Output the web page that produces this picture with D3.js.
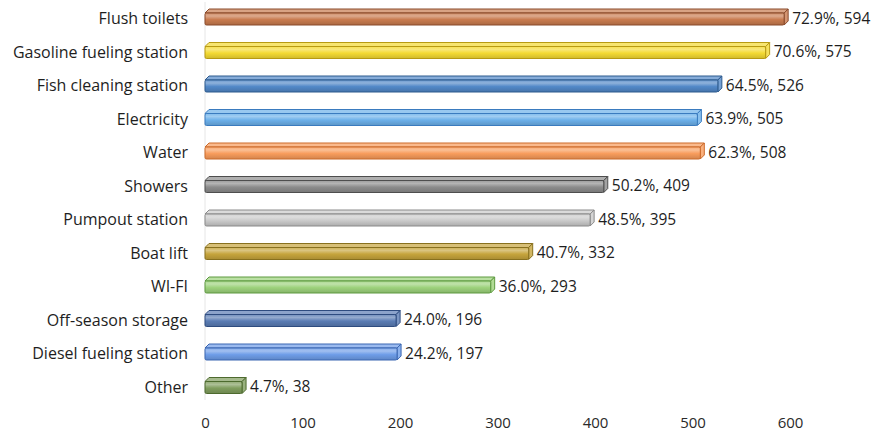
<!DOCTYPE html>
<html>
<head>
<meta charset="utf-8">
<script src="https://cdn.jsdelivr.net/npm/d3@7"></script>
<style>
  html, body { margin: 0; padding: 0; background: #ffffff; }
  svg { display: block; }
</style>
</head>
<body>
<svg id="chart" width="871" height="435"></svg>
<script>
// Marina amenities: share of respondents and count
const categories = [
  "Flush toilets", "Gasoline fueling station", "Fish cleaning station",
  "Electricity", "Water", "Showers", "Pumpout station", "Boat lift",
  "WI-FI", "Off-season storage", "Diesel fueling station", "Other"
];
const counts = [594, 575, 526, 505, 508, 409, 395, 332, 293, 196, 197, 38];
const percents = ["72.9%", "70.6%", "64.5%", "63.9%", "62.3%", "50.2%", "48.5%", "40.7%", "36.0%", "24.0%", "24.2%", "4.7%"];
const tickValues = [0, 100, 200, 300, 400, 500, 600];

// one fill / edge colour per bar
const fills = ["#c97b4f", "#f4da33", "#5288c8", "#6cb0ea", "#f89c5c", "#8c8c8c",
               "#cacaca", "#c6a43c", "#9dd27c", "#5a7cb4", "#6e9de8", "#809d5e"];
const edges = ["#8a4a2a", "#b89a12", "#2d5a8e", "#3a7bbf", "#cc6a2a", "#4e4e4e",
               "#8a8a8a", "#88701e", "#5e9a40", "#2e4c80", "#3a66b2", "#4d6a2e"];

const font = "'Open Sans', 'DejaVu Sans', sans-serif";
const svg = d3.select("#chart");
const defs = svg.append("defs");

const x = d3.scaleLinear().domain([0, 600]).range([205, 790]);
const y = d3.scalePoint().domain(categories).range([17, 385.5]);

const depth = 4;       // horizontal offset of the 3D top face
const rise = 4;        // vertical offset of the 3D top face
const frontTop = -4;   // front face top relative to row centre
const frontBot = 8;    // front face bottom relative to row centre

// faint value axis line
svg.append("line")
  .attr("x1", x(0)).attr("x2", x(0))
  .attr("y1", 2).attr("y2", 400)
  .attr("stroke", "#e6e6e6").attr("stroke-width", 1);

// gradients for each bar's front face
categories.forEach((c, i) => {
  const base = d3.color(fills[i]);
  const g = defs.append("linearGradient")
    .attr("id", "g" + i).attr("x1", 0).attr("y1", 0).attr("x2", 0).attr("y2", 1);
  g.append("stop").attr("offset", "0%").attr("stop-color", d3.interpolateRgb(fills[i], "#ffffff")(0.15));
  g.append("stop").attr("offset", "25%").attr("stop-color", d3.interpolateRgb(fills[i], "#ffffff")(0.35));
  g.append("stop").attr("offset", "55%").attr("stop-color", base.formatHex());
  g.append("stop").attr("offset", "100%").attr("stop-color", base.darker(0.45).formatHex());
});

const rows = svg.append("g").selectAll("g.bar")
  .data(categories.map((c, i) => ({ c, i, v: counts[i], p: percents[i] })))
  .join("g").attr("class", "bar");

// top face
rows.append("path")
  .attr("d", d => {
    const x0 = x(0), x1 = x(d.v), cy = y(d.c);
    return `M${x0},${cy + frontTop} L${x1},${cy + frontTop} L${x1 + depth},${cy + frontTop - rise} L${x0 + depth},${cy + frontTop - rise} Z`;
  })
  .attr("fill", d => d3.interpolateRgb(fills[d.i], "#ffffff")(0.3))
  .attr("stroke", d => edges[d.i]).attr("stroke-width", 1).attr("stroke-linejoin", "round");

// end face
rows.append("path")
  .attr("d", d => {
    const x1 = x(d.v), cy = y(d.c);
    return `M${x1},${cy + frontTop} L${x1 + depth},${cy + frontTop - rise} L${x1 + depth},${cy + frontBot - rise} L${x1},${cy + frontBot} Z`;
  })
  .attr("fill", d => d3.interpolateRgb(fills[d.i], "#ffffff")(0.2))
  .attr("stroke", d => edges[d.i]).attr("stroke-width", 1).attr("stroke-linejoin", "round");

// front face
rows.append("rect")
  .attr("x", x(0))
  .attr("y", d => y(d.c) + frontTop)
  .attr("width", d => x(d.v) - x(0))
  .attr("height", frontBot - frontTop)
  .attr("rx", 1.5)
  .attr("fill", d => `url(#g${d.i})`)
  .attr("stroke", d => edges[d.i]).attr("stroke-width", 1);

// value labels
rows.append("text")
  .attr("x", d => x(d.v) + depth + 4)
  .attr("y", d => y(d.c) + 6.5)
  .attr("font-family", font).attr("font-size", 15.5).attr("fill", "#1e1e1e")
  .text(d => `${d.p}, ${d.v}`);

// category labels
svg.append("g").selectAll("text")
  .data(categories).join("text")
  .attr("x", 188)
  .attr("y", d => y(d) + 7)
  .attr("text-anchor", "end")
  .attr("font-family", font).attr("font-size", 16).attr("fill", "#1e1e1e")
  .text(d => d);

// value axis
const axis = svg.append("g")
  .attr("transform", "translate(0,409)")
  .call(d3.axisBottom(x).tickValues(tickValues).tickSize(0).tickPadding(8));
axis.select(".domain").remove();
axis.selectAll("text")
  .attr("font-family", font).attr("font-size", 15).attr("fill", "#2a2a2a");
</script>
</body>
</html>
